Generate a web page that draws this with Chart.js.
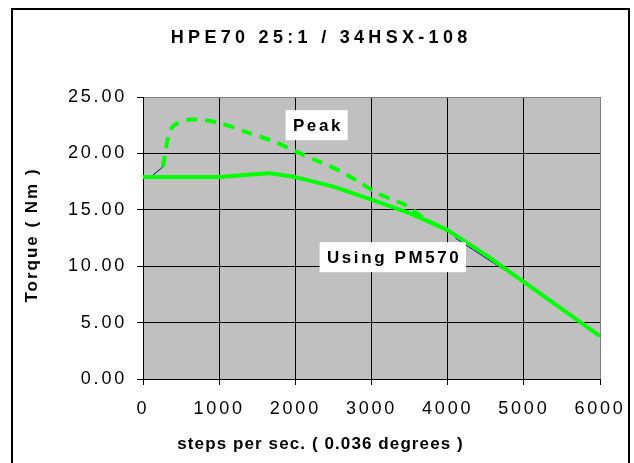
<!DOCTYPE html>
<html>
<head>
<meta charset="utf-8">
<script src="https://cdn.jsdelivr.net/npm/chart.js@4.4.1/dist/chart.umd.min.js"></script>
<style>
  html, body { margin: 0; padding: 0; background: #fff; }
  #wrap { width: 634px; height: 463px; position: relative; }
</style>
</head>
<body>
<div id="wrap"><canvas id="torqueChart" width="634" height="463"></canvas></div>
<script>
// HPE70 25:1 / 34HSX-108 torque curves

const chartTitle = 'HPE70 25:1 / 34HSX-108';
const xTitle = 'steps per sec. ( 0.036 degrees )';
const yTitle = 'Torque ( Nm )';

// Using PM570 (solid)
const usingSpeed  = [0, 1000, 1650, 2000, 2500, 3000, 3500, 4000, 4500, 5000, 6000];
const usingTorque = [17.9, 17.9, 18.25, 17.9, 17.05, 15.9, 14.7, 13.2, 11.0, 8.6, 3.8];

// Peak (dashed)
const peakSpeed  = [260, 380, 620, 1000, 1350, 1700, 2000, 2300, 2600, 2850, 3100, 3450, 3700, 4000];
const peakTorque = [18.8, 22.3, 23.0, 22.7, 21.9, 21.1, 20.2, 19.3, 18.4, 17.4, 16.4, 15.4, 14.2, 13.2];

// thin blue line showing under the green ones
const baseSpeed  = [100, 260, 2000, 4100, 4450, 4750];
const baseTorque = [17.9, 18.8, null, 12.5, 10.95, 9.65];

const xTicks = [0, 1000, 2000, 3000, 4000, 5000, 6000];
const yTicks = [0, 5, 10, 15, 20, 25];

const labels = [
  { text: 'Peak', x: 2280, y: 22.5 },
  { text: 'Using PM570', x: 3280, y: 10.8 }
];

const FONT = '"Liberation Sans", Arial, sans-serif';
const SPACING = '2.8px';

function toPoints(xs, ys){ return xs.map((x, i) => ({ x, y: ys[i] })); }

function spacedText(ctx, text, x, y, font, spacing, rotate){
  ctx.save();
  ctx.font = font;
  ctx.letterSpacing = spacing;
  ctx.fillStyle = '#000';
  ctx.textAlign = 'center';
  ctx.textBaseline = 'middle';
  ctx.translate(x, y);
  if (rotate) ctx.rotate(-Math.PI / 2);
  // trailing spacing shifts centred text, push it back
  ctx.fillText(text, parseFloat(spacing) / 2, 0);
  ctx.restore();
}

const spacingPlugin = {
  id: 'spacing',
  beforeUpdate(chart){ chart.ctx.letterSpacing = SPACING; },
  beforeDraw(chart){
    const { ctx, chartArea: a, width, height } = chart;
    ctx.letterSpacing = SPACING;
    ctx.save();
    ctx.fillStyle = '#fff';
    ctx.fillRect(0, 0, width, height);
    ctx.fillStyle = '#C0C0C0';
    ctx.fillRect(a.left, a.top, a.right - a.left, a.bottom - a.top);
    ctx.restore();
  }
};

const decorPlugin = {
  id: 'decor',
  afterDraw(chart){
    const { ctx, scales, chartArea: a } = chart;
    ctx.save();
    // outer frame
    ctx.strokeStyle = '#000';
    ctx.lineWidth = 2;
    ctx.strokeRect(12, 9, chart.width - 17, chart.height + 10);
    ctx.restore();

    spacedText(ctx, chartTitle, chart.width / 2 + 2, 38, 'bold 18px ' + FONT, '4.3px');
    spacedText(ctx, xTitle, 320, 444, 'bold 17px ' + FONT, '1.1px');
    spacedText(ctx, yTitle, 32, (a.top + a.bottom) / 2 - 2, 'bold 17px ' + FONT, '2px', true);

    // series labels
    ctx.save();
    ctx.font = 'bold 17px ' + FONT;
    ctx.letterSpacing = '2.6px';
    ctx.textAlign = 'center';
    ctx.textBaseline = 'middle';
    labels.forEach(l => {
      const cx = scales.x.getPixelForValue(l.x);
      const cy = scales.y.getPixelForValue(l.y);
      const w = ctx.measureText(l.text).width + 12;
      const h = 30;
      ctx.fillStyle = '#fff';
      ctx.fillRect(cx - w / 2, cy - h / 2, w, h);
      ctx.fillStyle = '#000';
      ctx.fillText(l.text, cx + 1.3, cy + 1);
    });
    ctx.restore();
  }
};

const ctx = document.getElementById('torqueChart').getContext('2d');
new Chart(ctx, {
  type: 'line',
  data: {
    datasets: [
      {
        label: 'Using PM570',
        data: toPoints(usingSpeed, usingTorque),
        borderColor: '#00FF00',
        borderWidth: 4,
        borderCapStyle: 'butt',
        borderJoinStyle: 'round',
        pointRadius: 0,
        tension: 0,
        order: 1
      },
      {
        label: 'Peak',
        data: toPoints(peakSpeed, peakTorque),
        borderColor: '#00FF00',
        borderWidth: 4,
        borderDash: [11, 8],
        borderCapStyle: 'butt',
        pointRadius: 0,
        tension: 0.3,
        order: 2
      },
      {
        label: 'base',
        data: toPoints(baseSpeed, baseTorque),
        borderColor: '#000080',
        borderWidth: 1,
        pointRadius: 0,
        spanGaps: false,
        tension: 0.2,
        order: 3
      }
    ]
  },
  options: {
    responsive: false,
    animation: false,
    devicePixelRatio: 1,
    layout: { padding: { top: 97, right: 34, left: 0, bottom: 0 } },
    plugins: {
      legend: { display: false },
      title: { display: false },
      tooltip: { enabled: false }
    },
    scales: {
      x: {
        type: 'linear',
        min: 0, max: 6000,
        afterBuildTicks: s => { s.ticks = xTicks.map(v => ({ value: v })); },
        afterFit: s => { s.height = 84; s.paddingLeft = 0; s.paddingRight = 0; },
        grid: {
          color: c => (c.tick && c.tick.value === 6000) ? '#808080' : '#000',
          lineWidth: 1,
          tickLength: 6,
          tickColor: '#000'
        },
        border: { color: '#000', width: 1 },
        ticks: {
          color: '#000',
          font: { family: FONT, size: 18 },
          padding: 13,
          maxRotation: 0,
          callback: v => String(v)
        }
      },
      y: {
        min: 0, max: 25,
        afterBuildTicks: s => { s.ticks = yTicks.map(v => ({ value: v })); },
        afterFit: s => { s.width = 143; s.paddingTop = 0; s.paddingBottom = 0; },
        grid: {
          color: c => (c.tick && c.tick.value === 25) ? '#808080' : '#000',
          lineWidth: 1,
          tickLength: 6,
          tickColor: '#000'
        },
        border: { color: '#000', width: 1 },
        ticks: {
          color: '#000',
          font: { family: FONT, size: 18 },
          padding: 10,
          callback: v => Number(v).toFixed(2)
        }
      }
    }
  },
  plugins: [spacingPlugin, decorPlugin]
});
</script>
</body>
</html>
